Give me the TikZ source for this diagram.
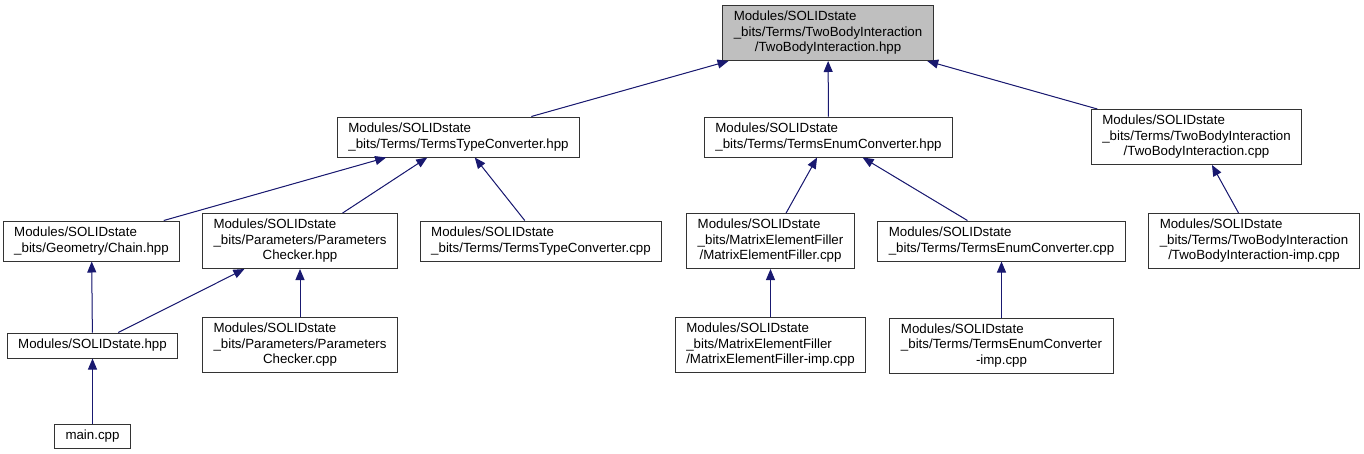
\documentclass[tikz,border=0pt]{standalone}
\usepackage{fontspec}
\setmainfont{Liberation Sans}
\usepackage{tikz}
\usetikzlibrary{arrows.meta,positioning}
\definecolor{edge}{HTML}{191970}
\definecolor{focus}{HTML}{BFBFBF}

\begin{document}
\begin{tikzpicture}[
  x=1pt,y=-1pt,
  node distance=48pt,
  f/.style={draw=black!80,line width=1pt,fill=white,align=left,
    font=\fontsize{13.3}{15.5}\selectfont,inner xsep=11pt,inner ysep=3pt,
    minimum height=40pt},
  one/.style={f,minimum height=25pt},
  three/.style={f,minimum height=55pt},
  a/.style={-{Triangle[length=11pt,width=9pt]},line width=1pt,draw=edge,fill=edge}
]
\useasboundingbox (0,0) rectangle (1364,453);
\node[three,fill=focus] (twobodyhpp) at (828,33) {Modules/SOLIDstate\\\_bits/Terms/TwoBodyInteraction\\\hfill/TwoBodyInteraction.hpp\hfill\null};
\node[f] (ttchpp) at (458.5,137) {Modules/SOLIDstate\\\_bits/Terms/TermsTypeConverter.hpp};
\node[f] (techpp) at (828.5,137) {Modules/SOLIDstate\\\_bits/Terms/TermsEnumConverter.hpp};
\node[three] (tbcpp) at (1196.5,137) {Modules/SOLIDstate\\\_bits/Terms/TwoBodyInteraction\\\hfill/TwoBodyInteraction.cpp\hfill\null};
\node[f] (chain) at (91.5,241) {Modules/SOLIDstate\\\_bits/Geometry/Chain.hpp};
\node[three] (pchpp) at (300,241) {Modules/SOLIDstate\\\_bits/Parameters/Parameters\\\hfill Checker.hpp\hfill\null};
\node[f] (ttccpp) at (541,241) {Modules/SOLIDstate\\\_bits/Terms/TermsTypeConverter.cpp};
\node[three] (mefcpp) at (770.5,241) {Modules/SOLIDstate\\\_bits/MatrixElementFiller\\\hfill/MatrixElementFiller.cpp\hfill\null};
\node[f] (teccpp) at (1001.5,241) {Modules/SOLIDstate\\\_bits/Terms/TermsEnumConverter.cpp};
\node[three] (tbimp) at (1254,241) {Modules/SOLIDstate\\\_bits/Terms/TwoBodyInteraction\\\hfill/TwoBodyInteraction-imp.cpp\hfill\null};
\node[one] (solid) at (92.5,345.5) {Modules/SOLIDstate.hpp};
\node[three,below=of pchpp] (pccpp) {Modules/SOLIDstate\\\_bits/Parameters/Parameters\\\hfill Checker.cpp\hfill\null};
\node[three,below=of mefcpp] (mefimp) {Modules/SOLIDstate\\\_bits/MatrixElementFiller\\\hfill/MatrixElementFiller-imp.cpp\hfill\null};
\node[three,below=56pt of teccpp] (tecimp) {Modules/SOLIDstate\\\_bits/Terms/TermsEnumConverter\\\hfill-imp.cpp\hfill\null};
\node[one,minimum height=24pt,below=65pt of solid] (main) {main.cpp};

\draw[a] (ttchpp) -- (twobodyhpp);
\draw[a] (techpp) -- (twobodyhpp);
\draw[a] (tbcpp) -- (twobodyhpp);
\draw[a] (chain) -- (ttchpp);
\draw[a] (pchpp) -- (ttchpp);
\draw[a] (ttccpp) -- (ttchpp);
\draw[a] (mefcpp) -- (techpp);
\draw[a] (teccpp) -- (techpp);
\draw[a] (tbimp) -- (tbcpp);
\draw[a] (solid) -- (chain);
\draw[a] (solid) -- (pchpp);
\draw[a] (pccpp) -- (pchpp);
\draw[a] (mefimp) -- (mefcpp);
\draw[a] (tecimp) -- (teccpp);
\draw[a] (main) -- (solid);
\end{tikzpicture}
\end{document}
